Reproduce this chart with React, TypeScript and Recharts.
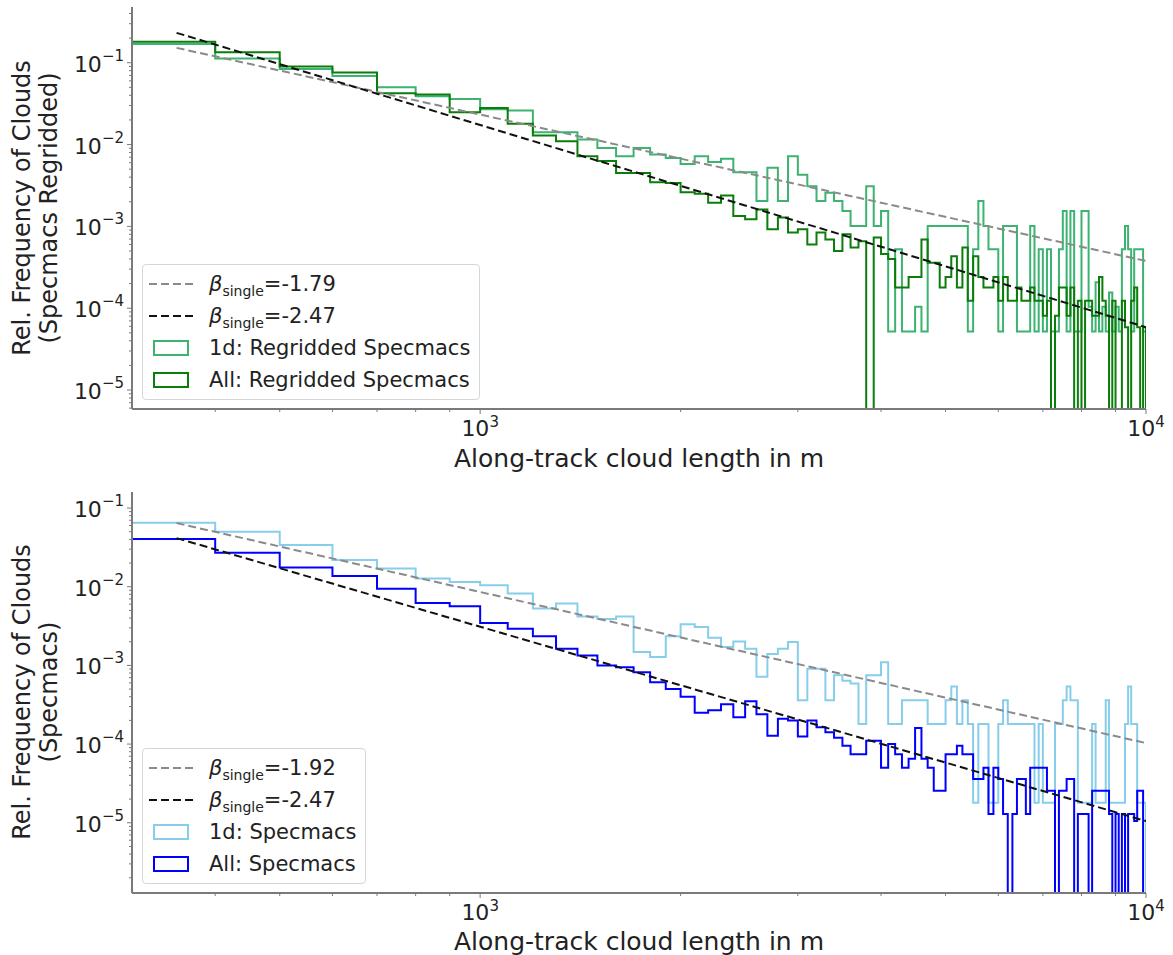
import React from "react";
import { ComposedChart, Line, XAxis, YAxis } from "recharts";

// histogram bins: 100 m wide, starting at 300 m
const BIN_START = 300;
const BIN_WIDTH = 100;

// top panel: regridded specmacs (rel. frequency per bin, 0 = empty bin)
const REG_1D = [
  0.17, 0.113, 0.084, 0.069, 0.05, 0.039, 0.036, 0.027, 0.026, 0.0141,
  0.0141, 0.0115, 0.0091, 0.0072, 0.0091, 0.00755, 0.00687, 0.0058, 0.0072, 0.0061,
  0.0067, 0.0046, 0.0046, 0.00204, 0.0052, 0.00204, 0.0072, 0.00427, 0.0031, 0.00204,
  0.00258, 0.00204, 0.00154, 0.00101, 0.00101, 0.0031, 0.00101, 0.00154, 0.000052, 0.000525,
  0.000052, 0.000052, 0.000104, 0.000052, 0.00101, 0.00101, 0.00101, 0.00101, 0.00101, 0.00101,
  0.00101, 0.000052, 0.000525, 0.00204, 0.00101, 0.000525, 0.000525, 0.000052, 0.00101, 0.00101,
  0.00101, 0.000052, 0.000052, 0.000052, 0.00101, 0.000052, 0.000525, 0.000052, 0.000525, 0.000052,
  0.000052, 0.000525, 0.00154, 0.000052, 0.00154, 0.000052, 0.000052, 0.00154, 0.00154, 0.000104,
  0.000052, 0.000208, 0.000052, 0.000104, 0.000052, 0.000156, 0.000052, 0.000104, 0.000052, 0.000525,
  0.00101, 0.000525, 0.000052, 0.000525, 0.000525, 0.000525, 0.000052,
];
const REG_ALL = [
  0.18, 0.134, 0.09, 0.076, 0.0425, 0.041, 0.0248, 0.028, 0.018, 0.0129,
  0.011, 0.0072, 0.0063, 0.0045, 0.0045, 0.00347, 0.0034, 0.00262, 0.0025, 0.00195,
  0.00239, 0.00134, 0.00122, 0.00161, 0.00092, 0.00128, 0.00084, 0.00092, 0.0006, 0.00084,
  0.00069, 0.0005, 0.0008, 0.00055, 0.00066, 0, 0.00073, 0.00046, 0.0004, 0.000179,
  0.000179, 0.00024, 0.00024, 0.00069, 0.00036, 0.00036, 0.000179, 0.00024, 0.00043, 0.000179,
  0.00055, 0.000123, 0.00043, 0.00024, 0.000179, 0.000179, 0.00024, 0.000123, 0.00024, 0.000123,
  0.000123, 0.000179, 0.000123, 0.000123, 0.000179, 0.000123, 0.000123, 0.000081, 0.000123, 0,
  0.000081, 0.000179, 0.000179, 0.000081, 0.000179, 0, 0.000123, 0, 0.000123, 0.000123,
  0.000081, 0.000081, 0.00024, 0.000123, 0.000081, 0, 0.000123, 0, 0, 0.000123,
  0.0000586, 0, 0.000123, 0.000179, 0.0000586, 0, 0.0000586,
];

// bottom panel: specmacs
const SPEC_1D = [
  0.065, 0.0499, 0.0338, 0.0218, 0.0171, 0.0127, 0.0115, 0.01045, 0.0082, 0.00527,
  0.0061, 0.0042, 0.0039, 0.0042, 0.00148, 0.00128, 0.00234, 0.00333, 0.00308, 0.00225,
  0.00171, 0.00202, 0.00163, 0.00072, 0.0014, 0.00163, 0.00198, 0.00036, 0.00091, 0.00091,
  0.00036, 0.00075, 0.00064, 0.00059, 0.00018, 0.00075, 0.00075, 0.0011, 0.00018, 0.00018,
  0.00036, 0.00036, 0.00036, 0.00036, 0.00018, 0.00018, 0.00018, 0.00036, 0.00054, 0.00018,
  0.00036, 0.00018, 0.000018, 0.00018, 0.00018, 0.000018, 0.000018, 0.00018, 0.00036, 0.00018,
  0.00018, 0.00018, 0.00018, 0.00018, 0.00018, 0.000018, 0.00018, 0.000018, 0.000018, 0.000018,
  0.00018, 0.00018, 0.00036, 0.00054, 0.00036, 0.00036, 0.000018, 0.000018, 0.000018, 0.000018,
  0.00018, 0.000018, 0.000018, 0.000018, 0.00036, 0.000018, 0.000018, 0.000018, 0.000018, 0.000018,
  0.00018, 0.00054, 0.00018, 0.00018, 0.000018, 0.000018, 0.000018,
];
const SPEC_ALL = [
  0.0403, 0.027, 0.0175, 0.0137, 0.0094, 0.0062, 0.00565, 0.00346, 0.00293, 0.00234,
  0.00163, 0.00134, 0.001, 0.00095, 0.00082, 0.00061, 0.0005, 0.0004, 0.00025, 0.00027,
  0.00032, 0.00022, 0.00035, 0.00024, 0.000128, 0.00021, 0.0002, 0.000125, 0.0002, 0.000164,
  0.000141, 0.00012, 0.000095, 0.000074, 0.000074, 0.00011, 0.00011, 0.00005, 0.0001, 0.000074,
  0.00005, 0.000065, 0.00016, 0.000065, 0.00005, 0.0000255, 0.0000255, 0.000074, 0.000074, 0.000095,
  0.000074, 0.000074, 0.000036, 0.000036, 0.00005, 0.0000129, 0.00005, 0.000036, 0.0000129, 0,
  0.0000129, 0.000036, 0.000036, 0.0000129, 0.00005, 0.00005, 0.00005, 0.00005, 0.0000255, 0.0000255,
  0, 0.0000255, 0.0000255, 0.000036, 0.000036, 0, 0.0000129, 0.0000129, 0.0000129, 0,
  0.0000255, 0.0000255, 0.0000255, 0.0000255, 0.0000255, 0.0000129, 0, 0.0000129, 0, 0.0000129,
  0, 0.0000129, 0.0000129, 0.0000105, 0.0000255, 0.0000255, 0,
];

// power-law fits, end points
const FIT_X = [350, 10000];
const REG_FIT_1D = [0.152, 3.78e-4];
const REG_FIT_ALL = [0.232, 5.86e-5];
const SPEC_FIT_1D = [0.0644, 1.03e-4];
const SPEC_FIT_ALL = [0.0415, 1.05e-5];

const X_MAJOR = [1000, 10000];
const X_MINOR = [400, 500, 600, 700, 800, 900, 2000, 3000, 4000, 5000, 6000, 7000, 8000, 9000];
const Y_MAJOR = [1e-5, 1e-4, 1e-3, 1e-2, 1e-1];
const Y_MANTISSA = [2, 3, 4, 5, 6, 7, 8, 9];
const Y_DECADES = [1e-6, 1e-5, 1e-4, 1e-3, 1e-2, 1e-1];

const X_DOMAIN = [300, 10000];
const TOP_Y_DOMAIN = [5.86e-6, 0.48];
const BOT_Y_DOMAIN = [1.28e-6, 0.16];

const FLOOR = 1e-9; // stands in for empty bins on the log axis
const FONT = "'DejaVu Sans', sans-serif";
const AXIS = "#7a7a7a";

function stepPoints(values: number[]) {
  const pts = [{ x: BIN_START, y: FLOOR }];
  values.forEach((v, i) => pts.push({ x: BIN_START + i * BIN_WIDTH, y: v > 0 ? v : FLOOR }));
  const end = BIN_START + values.length * BIN_WIDTH;
  const last = values[values.length - 1];
  pts.push({ x: end, y: last > 0 ? last : FLOOR });
  pts.push({ x: end, y: FLOOR });
  return pts;
}

function fitPoints(ys: number[]) {
  return FIT_X.map((x, i) => ({ x, y: ys[i] }));
}

function yTicks(domain: number[]) {
  const out: number[] = [];
  Y_DECADES.forEach((d) => {
    out.push(d);
    Y_MANTISSA.forEach((m) => out.push(m * d));
  });
  return out.filter((v) => v >= domain[0] && v <= domain[1]);
}

function isMajor(v: number, majors: number[]) {
  return majors.some((m) => Math.abs(v - m) / m < 1e-6);
}

function XTick(props: any) {
  const { x, y, payload } = props;
  const v = payload.value;
  const major = isMajor(v, X_MAJOR);
  const exp = Math.round(Math.log10(v));
  return (
    <g>
      <line x1={x} y1={y} x2={x} y2={y + (major ? 5 : 3)} stroke={AXIS} strokeWidth={1} />
      {major && (
        <text x={x} y={y + 27} textAnchor="middle" fontSize={22} fill="#222" fontFamily={FONT}>
          10
          <tspan dy={-9} fontSize={15}>
            {exp}
          </tspan>
        </text>
      )}
    </g>
  );
}

function YTick(props: any) {
  const { x, y, payload } = props;
  const v = payload.value;
  const major = isMajor(v, Y_MAJOR);
  const exp = Math.round(Math.log10(v));
  return (
    <g>
      <line x1={x} y1={y} x2={x - (major ? 5 : 3)} y2={y} stroke={AXIS} strokeWidth={1} />
      {major && (
        <text x={x - 8} y={y + 9} textAnchor="end" fontSize={22} fill="#222" fontFamily={FONT}>
          10
          <tspan dy={-11} fontSize={15}>
            {"\u2212" + Math.abs(exp)}
          </tspan>
        </text>
      )}
    </g>
  );
}

interface PanelProps {
  top: number;
  height: number;
  marginBottom: number;
  yDomain: number[];
  hist1d: number[];
  histAll: number[];
  fit1d: number[];
  fitAll: number[];
  color1d: string;
  colorAll: string;
}

function Panel(p: PanelProps) {
  return (
    <div style={{ position: "absolute", left: 0, top: p.top }}>
      <ComposedChart
        width={1173}
        height={p.height}
        margin={{ top: 7, right: 27, left: 72, bottom: p.marginBottom }}
      >
        <XAxis
          dataKey="x"
          type="number"
          scale="log"
          domain={X_DOMAIN}
          allowDataOverflow
          ticks={[...X_MINOR, ...X_MAJOR].sort((a, b) => a - b)}
          interval={0}
          tick={<XTick />}
          tickLine={false}
          tickSize={0}
          tickMargin={0}
          height={40}
          axisLine={{ stroke: AXIS, strokeWidth: 2 }}
        />
        <YAxis
          dataKey="y"
          type="number"
          scale="log"
          domain={p.yDomain}
          allowDataOverflow
          ticks={yTicks(p.yDomain)}
          interval={0}
          tick={<YTick />}
          tickLine={false}
          tickSize={0}
          tickMargin={0}
          width={60}
          axisLine={{ stroke: AXIS, strokeWidth: 2 }}
        />
        <Line
          data={stepPoints(p.hist1d)}
          dataKey="y"
          type="stepAfter"
          stroke={p.color1d}
          strokeWidth={2}
          dot={false}
          isAnimationActive={false}
        />
        <Line
          data={stepPoints(p.histAll)}
          dataKey="y"
          type="stepAfter"
          stroke={p.colorAll}
          strokeWidth={2}
          dot={false}
          isAnimationActive={false}
        />
        <Line
          data={fitPoints(p.fit1d)}
          dataKey="y"
          type="linear"
          stroke="#8a8a8a"
          strokeWidth={2}
          strokeDasharray="8 4"
          dot={false}
          isAnimationActive={false}
        />
        <Line
          data={fitPoints(p.fitAll)}
          dataKey="y"
          type="linear"
          stroke="#111"
          strokeWidth={2}
          strokeDasharray="8 4"
          dot={false}
          isAnimationActive={false}
        />
      </ComposedChart>
    </div>
  );
}

function Beta({ value }: { value: string }) {
  return (
    <span>
      <span style={{ fontStyle: "italic" }}>β</span>
      <span style={{ fontSize: 14, position: "relative", top: 5 }}>single</span>={value}
    </span>
  );
}

function LegendBox(props: {
  left: number;
  top: number;
  beta1d: string;
  betaAll: string;
  label1d: string;
  labelAll: string;
  color1d: string;
  colorAll: string;
}) {
  const row: React.CSSProperties = { display: "flex", alignItems: "center", height: 32 };
  const handle: React.CSSProperties = { width: 44, marginRight: 16, display: "flex", justifyContent: "center" };
  const dash = (c: string) => (
    <svg width={44} height={6}>
      <line x1={0} y1={3} x2={44} y2={3} stroke={c} strokeWidth={2} strokeDasharray="8 4" />
    </svg>
  );
  const patch = (c: string) => (
    <div style={{ width: 36, height: 16, border: `2px solid ${c}`, boxSizing: "border-box" }} />
  );
  return (
    <div
      style={{
        position: "absolute",
        left: props.left,
        top: props.top,
        padding: "3px 9px 3px 6px",
        border: "1px solid #d6d6d6",
        borderRadius: 4,
        background: "rgba(255,255,255,0.85)",
        fontFamily: FONT,
        fontSize: 21,
        color: "#222",
        whiteSpace: "nowrap",
      }}
    >
      <div style={row}>
        <div style={handle}>{dash("#8a8a8a")}</div>
        <Beta value={props.beta1d} />
      </div>
      <div style={row}>
        <div style={handle}>{dash("#111")}</div>
        <Beta value={props.betaAll} />
      </div>
      <div style={row}>
        <div style={handle}>{patch(props.color1d)}</div>
        {props.label1d}
      </div>
      <div style={row}>
        <div style={handle}>{patch(props.colorAll)}</div>
        {props.labelAll}
      </div>
    </div>
  );
}

function YTitle({ lines, cy }: { lines: string[]; cy: number }) {
  return (
    <>
      {lines.map((t, i) => (
        <div
          key={t}
          style={{
            position: "absolute",
            left: 22 + i * 27,
            top: cy,
            transform: "translate(-50%, -50%) rotate(-90deg)",
            whiteSpace: "nowrap",
            fontFamily: FONT,
            fontSize: 24,
            color: "#222",
          }}
        >
          {t}
        </div>
      ))}
    </>
  );
}

function XTitle({ top }: { top: number }) {
  return (
    <div
      style={{
        position: "absolute",
        left: 132,
        width: 1014,
        top,
        textAlign: "center",
        fontFamily: FONT,
        fontSize: 25,
        lineHeight: "25px",
        color: "#222",
      }}
    >
      Along-track cloud length in m
    </div>
  );
}

export default function App() {
  return (
    <div style={{ position: "relative", width: 1173, height: 955, background: "#fff", overflow: "hidden" }}>
      <style>{"body{margin:0;background:#fff}"}</style>
      <Panel
        top={0}
        height={485}
        marginBottom={36}
        yDomain={TOP_Y_DOMAIN}
        hist1d={REG_1D}
        histAll={REG_ALL}
        fit1d={REG_FIT_1D}
        fitAll={REG_FIT_ALL}
        color1d="#3cb371"
        colorAll="#0a7d0a"
      />
      <Panel
        top={485}
        height={470}
        marginBottom={22}
        yDomain={BOT_Y_DOMAIN}
        hist1d={SPEC_1D}
        histAll={SPEC_ALL}
        fit1d={SPEC_FIT_1D}
        fitAll={SPEC_FIT_ALL}
        color1d="#87ceeb"
        colorAll="#0000ff"
      />
      <YTitle lines={["Rel. Frequency of Clouds", "(Specmacs Regridded)"]} cy={208} />
      <YTitle lines={["Rel. Frequency of Clouds", "(Specmacs)"]} cy={692} />
      <XTitle top={446} />
      <XTitle top={929} />
      <LegendBox
        left={142}
        top={264}
        beta1d="-1.79"
        betaAll="-2.47"
        label1d="1d: Regridded Specmacs"
        labelAll="All: Regridded Specmacs"
        color1d="#3cb371"
        colorAll="#0a7d0a"
      />
      <LegendBox
        left={142}
        top={748}
        beta1d="-1.92"
        betaAll="-2.47"
        label1d="1d: Specmacs"
        labelAll="All: Specmacs"
        color1d="#87ceeb"
        colorAll="#0000ff"
      />
    </div>
  );
}
